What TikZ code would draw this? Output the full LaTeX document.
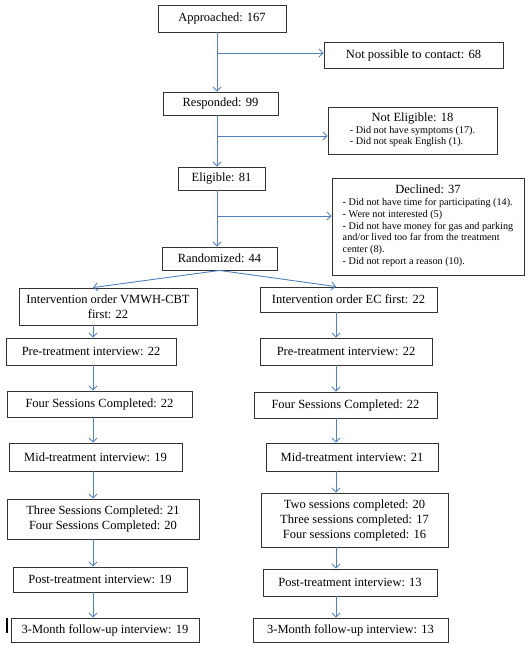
\documentclass[tikz,border=0pt]{standalone}
\usepackage{fontspec}
\setmainfont{Liberation Serif}
\usetikzlibrary{arrows.meta}
\definecolor{flowblue}{RGB}{79,129,189}
\newcommand{\notefont}{\fontsize{10.2}{11.8}\selectfont}
\newcommand{\titlefont}{\fontsize{12.5}{15}\selectfont}
\newcommand{\notetitle}[1]{\multicolumn{1}{@{}c@{}}{\titlefont #1}}

\begin{document}
\begin{tikzpicture}[x=1pt,y=-1pt,>={Straight Barb[length=4pt,width=8pt]},font=\titlefont,
    box/.style={draw=black!80, line width=0.9pt, inner sep=2pt, align=center},
    notebox/.style={box, font=\notefont},
    flow/.style={->, draw=flowblue, line width=0.9pt}]
    \useasboundingbox (0,0) rectangle (532,648);
    \node (approached) [box, minimum width=128pt, minimum height=27pt] at (222,18.5) {Approached: 167};
    \node (nocontact) [box, minimum width=179pt, minimum height=26pt] at (413.5,55) {Not possible to contact: 68};
    \node (responded) [box, minimum width=115pt, minimum height=23pt] at (220.5,103.5) {Responded: 99};
    \node (noteligible) [notebox, minimum width=169pt, minimum height=47pt] at (412.5,130.5) {\begin{tabular}{@{}l@{}}\notetitle{Not Eligible: 18}\\- Did not have symptoms (17).\\- Did not speak English (1).\end{tabular}};
    \node (eligible) [box, minimum width=87pt, minimum height=23pt] at (221.5,178.5) {Eligible: 81};
    \node (declined) [notebox, minimum width=192pt, minimum height=97pt] at (428,226.5) {\begin{tabular}{@{}l@{}}\notetitle{Declined: 37}\\- Did not have time for participating (14).\\- Were not interested (5)\\- Did not have money for gas and parking\\and/or lived too far from the treatment\\center (8).\\- Did not report a reason (10).\end{tabular}};
    \node (randomized) [box, minimum width=115pt, minimum height=23pt] at (219.5,258.5) {Randomized: 44};
    \node (ordervmwh) [box, minimum width=178pt, minimum height=37pt] at (108,306.5) {Intervention order VMWH-CBT\\first: 22};
    \node (orderec) [box, minimum width=177pt, minimum height=25pt] at (348.5,299.5) {Intervention order EC first: 22};
    \node (preleft) [box, minimum width=170pt, minimum height=27pt] at (91,351.5) {Pre-treatment interview: 22};
    \node (preright) [box, minimum width=172pt, minimum height=27pt] at (346,351.5) {Pre-treatment interview: 22};
    \node (fourleft) [box, minimum width=185pt, minimum height=26pt] at (99.5,404) {Four Sessions Completed: 22};
    \node (fourright) [box, minimum width=183pt, minimum height=26pt] at (345.5,405) {Four Sessions Completed: 22};
    \node (midleft) [box, minimum width=173pt, minimum height=28pt] at (95.5,457) {Mid-treatment interview: 19};
    \node (midright) [box, minimum width=172pt, minimum height=28pt] at (352,457) {Mid-treatment interview: 21};
    \node (sessleft) [box, minimum width=192pt, minimum height=40pt] at (103,519) {Three Sessions Completed: 21\\Four Sessions Completed: 20};
    \node (sessright) [box, minimum width=187pt, minimum height=54pt] at (354.5,520) {Two sessions completed: 20\\Three sessions completed: 17\\Four sessions completed: 16};
    \node (postleft) [box, minimum width=174pt, minimum height=25pt] at (100,579.5) {Post-treatment interview: 19};
    \node (postright) [box, minimum width=174pt, minimum height=27pt] at (350,582.5) {Post-treatment interview: 13};
    \node (followleft) [box, minimum width=188pt, minimum height=24pt] at (105,630) {3-Month follow-up interview: 19};
    \node (followright) [box, minimum width=195pt, minimum height=24pt] at (350.5,630) {3-Month follow-up interview: 13};

    \coordinate (trunk) at (217,0);
    \coordinate (leftcol) at (93,0);
    \coordinate (rightcol) at (336,0);
    \coordinate (split1) at (217,53);
    \coordinate (split2) at (217,136);
    \coordinate (split3) at (217,216);

    \draw[flow] (approached.south -| trunk) -- (responded.north -| trunk);
    \draw[flow] (responded.south -| trunk) -- (eligible.north -| trunk);
    \draw[flow] (eligible.south -| trunk) -- (randomized.north -| trunk);
    \draw[flow] (split1) -- (split1 -| nocontact.west);
    \draw[flow] (split2) -- (split2 -| noteligible.west);
    \draw[flow] (split3) -- (split3 -| declined.west);
    \draw[flow] (randomized.south) -- (ordervmwh.north -| leftcol);
    \draw[flow] (randomized.south) -- (orderec.north -| rightcol);

    \draw[flow] (ordervmwh.south -| leftcol) -- (preleft.north -| leftcol);
    \draw[flow] (preleft.south -| leftcol) -- (fourleft.north -| leftcol);
    \draw[flow] (fourleft.south -| leftcol) -- (midleft.north -| leftcol);
    \draw[flow] (midleft.south -| leftcol) -- (sessleft.north -| leftcol);
    \draw[flow] (sessleft.south -| leftcol) -- (postleft.north -| leftcol);
    \draw[flow] (postleft.south -| leftcol) -- (followleft.north -| leftcol);

    \draw[flow] (orderec.south -| rightcol) -- (preright.north -| rightcol);
    \draw[flow] (preright.south -| rightcol) -- (fourright.north -| rightcol);
    \draw[flow] (fourright.south -| rightcol) -- (midright.north -| rightcol);
    \draw[flow] (midright.south -| rightcol) -- (sessright.north -| rightcol);
    \draw[flow] (sessright.south -| rightcol) -- (postright.north -| rightcol);
    \draw[flow] (postright.south -| rightcol) -- (followright.north -| rightcol);

    \draw[line width=1.6pt] (7,618) -- (7,633);
\end{tikzpicture}
\end{document}
